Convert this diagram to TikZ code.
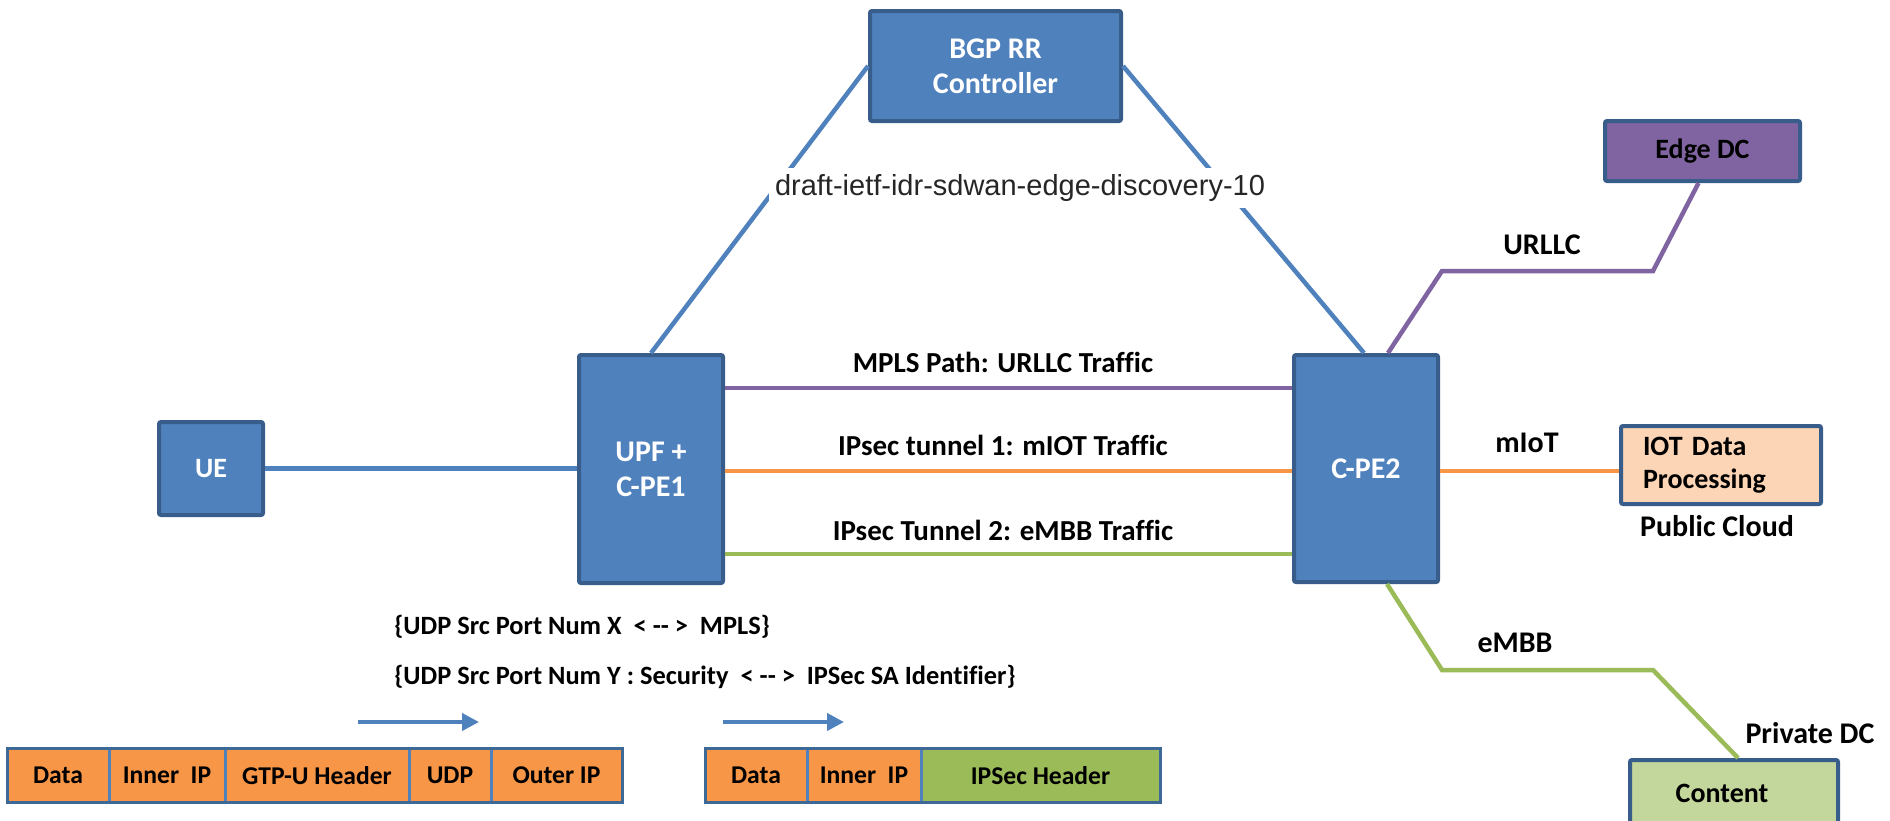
\documentclass[tikz,border=0pt]{standalone}
\usepackage{fontspec}
\setmainfont{Carlito}[Ligatures={TeX,NoCommon}]
\newfontfamily\arialfont{Liberation Sans}
\usetikzlibrary{arrows.meta,calc}
\definecolor{nodeblue}{HTML}{4F81BD}
\definecolor{boxborder}{HTML}{385D8A}
\definecolor{linepurple}{HTML}{8064A2}
\definecolor{lineorange}{HTML}{F79646}
\definecolor{linegreen}{HTML}{9BBB59}
\definecolor{iotfill}{HTML}{FBD5B5}
\definecolor{contentfill}{HTML}{C3D69B}
\definecolor{cellline}{HTML}{4F81BD}
\definecolor{pktframe}{HTML}{3E6896}
\definecolor{drafttext}{HTML}{262626}
\tikzset{
  box/.style={draw=boxborder, line width=2pt, inner sep=0pt, align=center, rounded corners=1pt,
    font=\bfseries\fontsize{15}{17.5}\selectfont},
  bluebox/.style={box, fill=nodeblue, text=white},
  conn/.style={line width=2.25pt},
  lbl/.style={inner sep=0pt, font=\bfseries\fontsize{15}{18}\selectfont},
  midlbl/.style={inner sep=0pt, font=\bfseries\fontsize{14.5}{17}\selectfont},
  udplbl/.style={inner sep=0pt, anchor=west, font=\bfseries\fontsize{13.2}{16}\selectfont},
  cell/.style={draw=cellline, line width=1.5pt, inner sep=0pt, outer sep=0pt, minimum height=27pt,
    font=\bfseries\fontsize{12.8}{15}\selectfont},
  pktborder/.style={draw=pktframe, line width=1.5pt},
  flowarrow/.style={draw=nodeblue, line width=2pt, -{Triangle[length=8.5pt,width=8.5pt]}},
  draftlbl/.style={fill=white, inner sep=3pt, text=drafttext, font=\arialfont\fontsize{14.5}{17}\selectfont},
}
\begin{document}
\begin{tikzpicture}[x=0.5pt,y=-0.5pt]
\useasboundingbox (0,0) rectangle (1890,820);
\clip (0,0) rectangle (1890,820);

% main nodes
\node[bluebox, minimum width=125.5pt, minimum height=55pt] (bgp) at (995.5,66) {BGP RR\\Controller};
\node[bluebox, minimum width=52pt, minimum height=46.5pt, font=\bfseries\fontsize{14}{17}\selectfont] (ue) at (211,468.5) {UE};
\node[bluebox, minimum width=72pt, minimum height=114pt] (upf) at (651,469) {UPF +\\C-PE1};
\node[bluebox, minimum width=72pt, minimum height=113.5pt] (cpe2) at (1366,468.5) {C-PE2};
\node[box, fill=linepurple, minimum width=97.5pt, minimum height=30pt, font=\bfseries\fontsize{14}{17}\selectfont] (edge) at (1702.5,151) {Edge DC};
\node[box, fill=iotfill, minimum width=100pt, minimum height=39pt, text width=78pt, align=left,
  font=\bfseries\fontsize{14}{16.5}\selectfont] (iot) at (1721,465) {IOT Data\\Processing};
\node[box, fill=contentfill, minimum width=104pt, minimum height=33pt, font=\bfseries\fontsize{14}{17}\selectfont] (content) at (1734,793) {Content\hspace*{12pt}};

% bend points
\coordinate (row1) at (0,388);
\coordinate (row2) at (0,471);
\coordinate (row3) at (0,554);
\coordinate (u1) at (1442,271);
\coordinate (u2) at (1653,271);
\coordinate (e1) at (1442,670);
\coordinate (e2) at (1653,670);

% connectors
\draw[conn, nodeblue] (ue.east) -- (upf.west |- ue.east);
\draw[conn, nodeblue] (upf.north) -- (bgp.west);
\draw[conn, nodeblue] (bgp.east) -- ($(cpe2.north)+(-2,0)$);
\draw[conn, linepurple] (upf.east |- row1) -- (cpe2.west |- row1);
\draw[conn, lineorange] (upf.east |- row2) -- (cpe2.west |- row2);
\draw[conn, linegreen] (upf.east |- row3) -- (cpe2.west |- row3);
\draw[conn, lineorange] (cpe2.east |- row2) -- (iot.west |- row2);
\draw[conn, linepurple] ($(cpe2.north)+(22,0)$) -- (u1) -- (u2) -- ($(edge.south)+(-4,0)$);
\draw[conn, linegreen] ($(cpe2.south)+(21,0)$) -- (e1) -- (e2) -- ($(content.north)+(4,0)$);

% draft label (on top of lines)
\node[draftlbl] (draft) at (1020,188) {draft-ietf-idr-sdwan-edge-discovery-10};

% link labels
\node[midlbl] (lmpls) at (1003,362) {MPLS Path: URLLC Traffic};
\node[midlbl] (lipsec1) at (1003,445) {IPsec tunnel 1: mIOT Traffic};
\node[midlbl] (lipsec2) at (1003,530) {IPsec Tunnel 2: eMBB Traffic};
\node[lbl] (lurllc) at (1542,245) {URLLC};
\node[lbl] (lmiot) at (1527,443) {mIoT};
\node[lbl] (lembb) at (1515,643) {eMBB};
\node[lbl] (lpublic) at (1717,526) {Public Cloud};
\node[lbl] (lprivate) at (1810,733) {Private DC};

% UDP mapping text
\node[udplbl] (udp1) at (394,627) {\{UDP Src Port Num X~~<~-{}-~>~~MPLS\}};
\node[udplbl] (udp2) at (394,677) {\{UDP Src Port Num Y : Security~~<~-{}-~>~~IPSec SA Identifier\}};

% arrows
\coordinate (a1s) at (358,722);
\coordinate (a1e) at (479,722);
\coordinate (a2s) at (723,722);
\coordinate (a2e) at (844,722);
\draw[flowarrow] (a1s) -- (a1e);
\draw[flowarrow] (a2s) -- (a2e);

% packet 1
\node[cell, fill=lineorange, minimum width=51pt] (p1a) at (58,775.5) {Data};
\node[cell, fill=lineorange, minimum width=58pt] (p1b) at (167,775.5) {Inner~~IP};
\node[cell, fill=lineorange, minimum width=92pt] (p1c) at (317,775.5) {GTP-U Header};
\node[cell, fill=lineorange, minimum width=41pt] (p1d) at (450,775.5) {UDP};
\node[cell, fill=lineorange, minimum width=65.5pt] (p1e) at (556.5,775.5) {Outer IP};
\draw[pktborder] (p1a.north west) rectangle (p1e.south east);

% packet 2
\node[cell, fill=lineorange, minimum width=51pt] (p2a) at (756,775.5) {Data};
\node[cell, fill=lineorange, minimum width=57pt] (p2b) at (864,775.5) {Inner~~IP};
\node[cell, fill=linegreen, minimum width=119.5pt] (p2c) at (1040.5,775.5) {IPSec Header};
\draw[pktborder] (p2a.north west) rectangle (p2c.south east);
\end{tikzpicture}
\end{document}
